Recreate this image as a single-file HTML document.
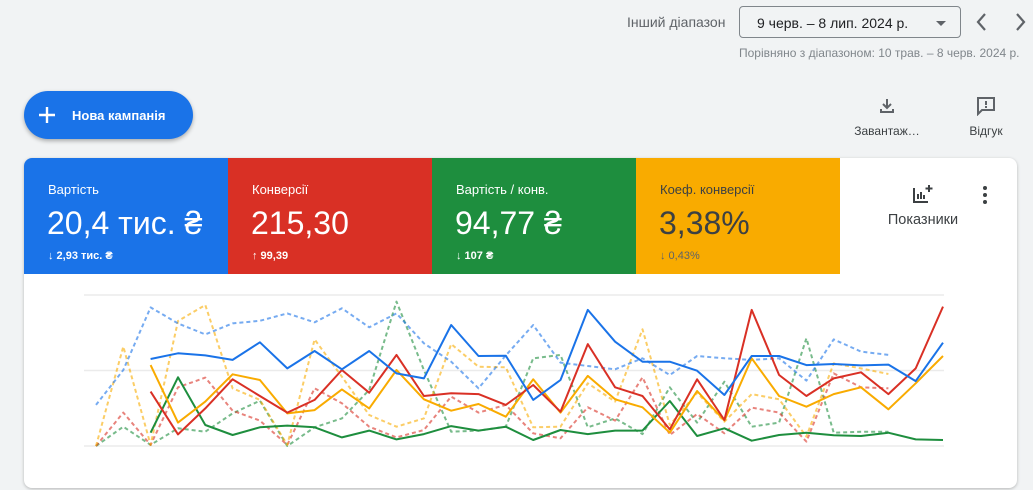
<!DOCTYPE html>
<html><head><meta charset="utf-8"><style>
*{box-sizing:border-box}
body{margin:0;width:1033px;height:490px;background:#f1f3f4;font-family:"Liberation Sans",Arial,sans-serif;color:#3c4043;position:relative;overflow:hidden}
.abs{position:absolute}
.tile{position:absolute;top:158px;height:116px;width:204px;color:#fff}
.tile .lbl{position:absolute;left:24px;top:24px;font-size:13px}
.tile .val{position:absolute;left:23px;top:47px;font-size:32px}
.tile .dl{position:absolute;left:24px;top:92px;font-size:11px;font-weight:bold}
</style></head><body>
<div class="abs" style="left:627px;top:14px;font-size:14px;color:#5f6368">Інший діапазон</div>
<div class="abs" style="left:739px;top:6px;width:222px;height:32px;border:1px solid #80868b;border-radius:4px;font-size:14px;color:#202124;padding:8px 0 0 17px">9 черв. – 8 лип. 2024 р.<span style="position:absolute;right:14px;top:14px;border:5px solid transparent;border-top-color:#5f6368;border-bottom:0"></span></div>
<svg class="abs" style="left:974px;top:12px" width="16" height="20" viewBox="0 0 16 20"><path d="M11 2L4 10l7 8" stroke="#5f6368" stroke-width="2.2" fill="none"/></svg>
<svg class="abs" style="left:1012px;top:12px" width="16" height="20" viewBox="0 0 16 20"><path d="M5 2l7 8-7 8" stroke="#5f6368" stroke-width="2.2" fill="none"/></svg>
<div class="abs" style="left:739px;top:46px;font-size:12px;color:#80868b;white-space:nowrap">Порівняно з діапазоном: 10 трав. – 8 черв. 2024 р.</div>
<div class="abs" style="left:24px;top:91px;width:169px;height:48px;border-radius:24px;background:#1a73e8;box-shadow:0 2px 4px rgba(0,0,0,.3);color:#fff;font-size:13px;font-weight:bold;padding:17px 0 0 48px">
<svg style="position:absolute;left:15px;top:16px" width="16" height="16" viewBox="0 0 16 16"><path d="M8 0v16M0 8h16" stroke="#fff" stroke-width="2.4"/></svg>Нова кампанія</div>
<div class="abs" style="left:850px;top:96px;width:74px;text-align:center;font-size:12px;color:#3c4043">
<svg width="20" height="20" viewBox="0 0 20 20" style="display:block;margin:0 auto 8px"><path d="M10 3v9M6 8l4 4 4-4M4 13v3h12v-3" stroke="#5f6368" stroke-width="2" fill="none"/></svg>Завантаж…</div>
<div class="abs" style="left:958px;top:96px;width:56px;text-align:center;font-size:12px;color:#3c4043">
<svg width="22" height="20" viewBox="0 0 22 20" style="display:block;margin:0 auto 8px"><path d="M3 2h16v12H7l-4 4z" stroke="#5f6368" stroke-width="2" fill="none"/><rect x="10" y="5" width="2" height="4" fill="#5f6368"/><rect x="10" y="10" width="2" height="2" fill="#5f6368"/></svg>Відгук</div>

<div class="abs" style="left:24px;top:158px;width:993px;height:330px;background:#fff;border-radius:8px;box-shadow:0 1px 3px rgba(0,0,0,.25);overflow:hidden"></div>
<div class="tile" style="left:24px;background:#1a73e8;border-top-left-radius:8px"><div class="lbl">Вартість</div><div class="val">20,4 тис. ₴</div><div class="dl">↓ 2,93 тис. ₴</div></div>
<div class="tile" style="left:228px;background:#d93025"><div class="lbl">Конверсії</div><div class="val">215,30</div><div class="dl">↑ 99,39</div></div>
<div class="tile" style="left:432px;background:#1e8e3e"><div class="lbl">Вартість / конв.</div><div class="val">94,77 ₴</div><div class="dl">↓ 107 ₴</div></div>
<div class="tile" style="left:636px;background:#f9ab00;color:#3c4043"><div class="lbl">Коеф. конверсії</div><div class="val">3,38%</div><div class="dl" style="font-weight:normal;color:#5f6368">↓ 0,43%</div></div>
<div class="abs" style="left:878px;top:184px;width:90px;text-align:center;font-size:14.5px;color:#3c4043">
<svg width="22" height="20" viewBox="0 0 22 20" style="display:block;margin:0 auto 8px"><path d="M2 4v14h14" stroke="#3c4043" stroke-width="2" fill="none"/><path d="M6 15v-5M9 15v-7M12 15v-4" stroke="#3c4043" stroke-width="2"/><path d="M17 1v7M13.5 4.5h7" stroke="#3c4043" stroke-width="2"/></svg>Показники</div>
<div class="abs" style="left:983px;top:186px;width:4px">
<div style="width:4px;height:4px;border-radius:2px;background:#3c4043;margin-bottom:3px"></div><div style="width:4px;height:4px;border-radius:2px;background:#3c4043;margin-bottom:3px"></div><div style="width:4px;height:4px;border-radius:2px;background:#3c4043"></div></div>

<svg id="chart" class="abs" style="left:0;top:0" width="1033" height="490"></svg>
<script>
const blueCur=[57.6,61.4,60,57,68.7,51.4,62.9,50.8,62.9,48.1,44.8,80.1,59.6,59.8,30.5,43.7,90.1,69.1,55.8,55.8,49.9,33.8,59.6,59.6,53.6,54.3,53.4,53.9,43,68.4];
const redCur=[36,7.7,24.9,44.2,33.1,22.1,30.5,50.3,35.3,60.3,33.1,34.9,34.4,27.2,40.4,22.7,67.5,38.9,33.1,11,44.2,17.2,90.1,47,33.1,44.8,48.8,34.4,51.4,92.3];
const yellowCur=[53.6,15.5,29.4,47.5,43.7,21.6,23.8,37.5,24.9,50.3,30.9,23.4,27.8,19.4,44.2,22.1,46.4,30.9,25.6,8.8,36.4,16.8,58.1,33.1,26,34.4,38.9,24.3,41.5,59.6];
const greenCur=[8.8,45.5,13.9,7.3,12.4,13.5,12.4,5.7,10.2,4.4,7.9,13.2,10.2,12.8,4,10.6,7.9,10.2,10.2,29.8,6.6,11.7,3.5,7.3,8.8,7.1,6.6,8.8,4.4,4];
const bluePrev=[27.2,50.3,91.8,81.2,73.9,81.2,82.9,87.8,81.9,91.2,78.6,87.8,68,55.8,38.2,60,80.1,55.2,53,50.8,58.1,47,59.6,58.1,57,58.1,43.3,70.6,62.5,60.3];
const yellowPrev=[0,65.8,0.7,82.8,93.4,38.2,30.5,0.7,70.6,45.9,20.5,12.8,18.3,67.5,52.5,52.1,12.4,12.8,41.5,29.4,77.3,13.9,35.3,16.1,34.4,30.9,6.2,54.7,51.4,47.7];
const redPrev=[0,22.1,0.7,38.9,45.3,23.4,16.8,0.7,38.2,28.3,12.8,5.7,10.6,32.7,22.1,27.2,8.4,5.1,25.6,16.8,45.5,7.3,21.2,8.4,25.4,22.1,2.9,48.1,38.9,38.2];
const greenPrev=[0,12.8,0.7,11.7,9.5,21.6,30,0,12.4,18.3,37.1,95.6,50.3,9.5,10.2,12.8,58.1,60.3,12.4,18.3,7.9,38.9,15.5,42.6,12.8,15.5,71.3,8.8,9.5,9.5];
const gridValues=[0,50,100];
const NS='http://www.w3.org/2000/svg';
const svg=document.getElementById('chart');
const X=i=>96+i*(943-96)/31;
const Y=v=>446-v*(446-295)/100;
for(const g of gridValues){
  const l=document.createElementNS(NS,'line');
  
  
  l.setAttribute('x1',84);l.setAttribute('x2',944);l.setAttribute('y1',Y(g));l.setAttribute('y2',Y(g));
  l.setAttribute('stroke','#ebebeb');l.setAttribute('stroke-width',1.5);
  svg.appendChild(l);
}
function line(vals,start,color,dashed,name){
  const p=document.createElementNS(NS,'polyline');
  
  
  p.setAttribute('points',vals.map((v,i)=>X(i+start).toFixed(1)+','+Y(v).toFixed(1)).join(' '));
  p.setAttribute('fill','none');p.setAttribute('stroke',color);
  p.setAttribute('stroke-width',2);p.setAttribute('stroke-linejoin','round');
  if(dashed){p.setAttribute('stroke-dasharray','4 3');p.setAttribute('opacity','0.6');}
  svg.appendChild(p);
}
line(greenPrev,0,'#1e8e3e',true,'green-previous-line');
line(redPrev,0,'#d93025',true,'red-previous-line');
line(yellowPrev,0,'#f9ab00',true,'yellow-previous-line');
line(bluePrev,0,'#1a73e8',true,'blue-previous-line');
line(greenCur,2,'#1e8e3e',false,'cost-per-conversion-line');
line(yellowCur,2,'#f9ab00',false,'conversion-rate-line');
line(redCur,2,'#d93025',false,'conversions-line');
line(blueCur,2,'#1a73e8',false,'cost-line');
</script>
</body></html>
